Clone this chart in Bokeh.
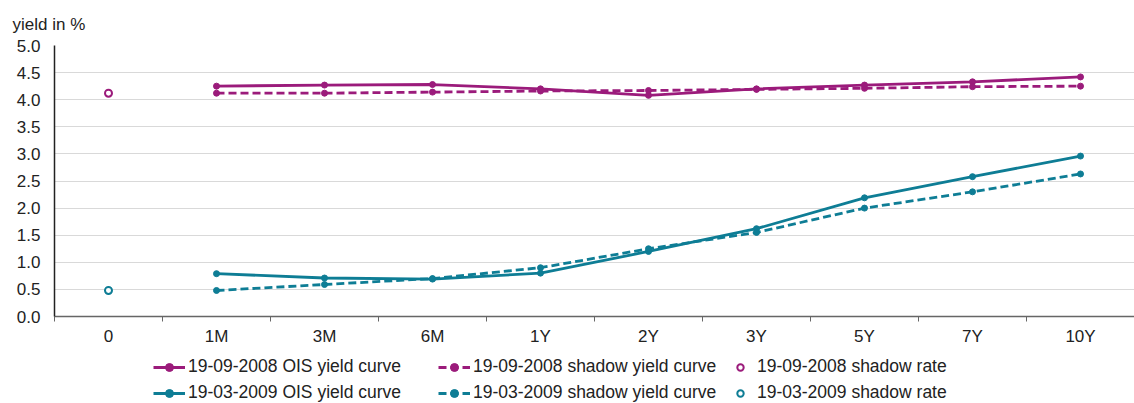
from bokeh.plotting import figure
from bokeh.layouts import column
from bokeh.models import (Range1d, FixedTicker, Legend, LegendItem, ColumnDataSource)
from bokeh.embed import file_html
from bokeh.resources import INLINE

categories = ["0", "1M", "3M", "6M", "1Y", "2Y", "3Y", "5Y", "7Y", "10Y"]
tenors = ["1M", "3M", "6M", "1Y", "2Y", "3Y", "5Y", "7Y", "10Y"]
ois_2008 = [4.25, 4.27, 4.28, 4.20, 4.08, 4.20, 4.27, 4.33, 4.42]
shadow_curve_2008 = [4.12, 4.12, 4.14, 4.16, 4.17, 4.19, 4.21, 4.24, 4.25]
shadow_rate_2008 = [4.12]
ois_2009 = [0.79, 0.71, 0.69, 0.80, 1.20, 1.62, 2.19, 2.58, 2.96]
shadow_curve_2009 = [0.48, 0.59, 0.70, 0.90, 1.25, 1.55, 2.00, 2.30, 2.63]
shadow_rate_2009 = [0.48]
y_ticks = [0.0, 0.5, 1.0, 1.5, 2.0, 2.5, 3.0, 3.5, 4.0, 4.5, 5.0]
labels_ois = ["19-09-2008 OIS yield curve", "19-03-2009 OIS yield curve"]
labels_shadow_curve = ["19-09-2008 shadow yield curve", "19-03-2009 shadow yield curve"]
labels_shadow_rate = ["19-09-2008 shadow rate", "19-03-2009 shadow rate"]

MAG = "#9b1b7b"
TEAL = "#0e7d95"
FONT = "Liberation Sans"
DASH = "8 4"

pos = {c: i for i, c in enumerate(categories)}
xt = [pos[t] for t in tenors]
x0 = [pos["0"]]

# ---------------- main chart ----------------
p = figure(width=1134, height=345, output_backend="svg", toolbar_location=None,
           x_range=Range1d(-0.5, len(categories) - 0.5), y_range=Range1d(0, 5),
           frame_width=1080, frame_height=271,
           min_border_left=54, min_border_right=0, min_border_top=45, min_border_bottom=0)
p.outline_line_color = None
p.background_fill_color = "white"
p.border_fill_color = "white"

p.title.text = "yield in %"
p.title.align = "left"
p.title.offset = -42
p.title.standoff = 24
p.title.text_font = FONT
p.title.text_font_size = "17px"
p.title.text_font_style = "normal"
p.title.text_color = "#222222"

p.xaxis.ticker = FixedTicker(ticks=list(range(len(categories))),
                             minor_ticks=[i - 0.5 for i in range(len(categories) + 1)])
p.xaxis.major_label_overrides = {i: c for i, c in enumerate(categories)}
p.xaxis.major_tick_line_color = None
p.xaxis.minor_tick_line_color = "#666666"
p.xaxis.minor_tick_out = 5
p.xaxis.minor_tick_in = 0
p.xaxis.axis_line_color = "#666666"
p.xaxis.axis_line_width = 1.5
p.xaxis.major_label_text_font = FONT
p.xaxis.major_label_text_font_size = "17px"
p.xaxis.major_label_text_color = "#222222"
p.xaxis.major_label_standoff = 4
p.xgrid.grid_line_color = None

p.yaxis.ticker = FixedTicker(ticks=y_ticks)
p.yaxis.major_label_overrides = {t: f"{t:.1f}" for t in y_ticks}
p.yaxis.major_tick_line_color = None
p.yaxis.minor_tick_line_color = None
p.yaxis.axis_line_color = "#222222"
p.yaxis.axis_line_width = 1.5
p.yaxis.major_label_text_font = FONT
p.yaxis.major_label_text_font_size = "17px"
p.yaxis.major_label_text_color = "#222222"
p.yaxis.major_label_standoff = 8
p.ygrid.grid_line_color = "#d9d9d9"
p.ygrid.grid_line_width = 1.2


def curve(fig, y, color, dash):
    src = ColumnDataSource(dict(x=xt, y=y))
    ln = fig.line("x", "y", source=src, line_color=color, line_width=2.8, line_dash=dash)
    mk = fig.scatter("x", "y", source=src, size=6, fill_color=color, line_color=color)
    return [ln, mk]


def rate(fig, y, color):
    return [fig.scatter(x0, y, size=7, fill_color="white", line_color=color, line_width=2)]


curve(p, ois_2008, MAG, "solid")
curve(p, shadow_curve_2008, MAG, DASH)
curve(p, ois_2009, TEAL, "solid")
curve(p, shadow_curve_2009, TEAL, DASH)
rate(p, shadow_rate_2008, MAG)
rate(p, shadow_rate_2009, TEAL)

# ---------------- legend strip (same series, drawn off-view, only the legend shows) ----------------
lp = figure(width=1134, height=58, output_backend="svg", toolbar_location=None,
            x_range=Range1d(100, 101), y_range=Range1d(100, 101),
            min_border=0, min_border_left=0, min_border_right=0, min_border_top=0, min_border_bottom=0)
lp.outline_line_color = None
lp.axis.visible = False
lp.grid.visible = False
lp.border_fill_color = "white"
lp.background_fill_color = "white"

col_ois = [curve(lp, ois_2008, MAG, "solid"), curve(lp, ois_2009, TEAL, "solid")]
col_sc = [curve(lp, shadow_curve_2008, MAG, DASH), curve(lp, shadow_curve_2009, TEAL, DASH)]
col_sr = [rate(lp, shadow_rate_2008, MAG), rate(lp, shadow_rate_2009, TEAL)]

columns_spec = [
    (labels_ois, col_ois, (99, 3), 32, 3),
    (labels_shadow_curve, col_sc, (384, 3), 32, 3),
    (labels_shadow_rate, col_sr, (678, 3), 16, 9),
]
for labels, rends, loc, gw, standoff in columns_spec:
    lg = Legend(items=[LegendItem(label=l, renderers=r) for l, r in zip(labels, rends)],
                orientation="vertical", location=loc,
                label_text_font=FONT, label_text_font_size="17.5px", label_text_color="#222222",
                glyph_width=gw, glyph_height=20, label_standoff=standoff, spacing=5,
                label_height=20, padding=0, margin=0, border_line_color=None,
                background_fill_alpha=0)
    lp.add_layout(lg, "center")

layout = column(p, lp, spacing=0)
open("out.html", "w").write(file_html(layout, INLINE))
